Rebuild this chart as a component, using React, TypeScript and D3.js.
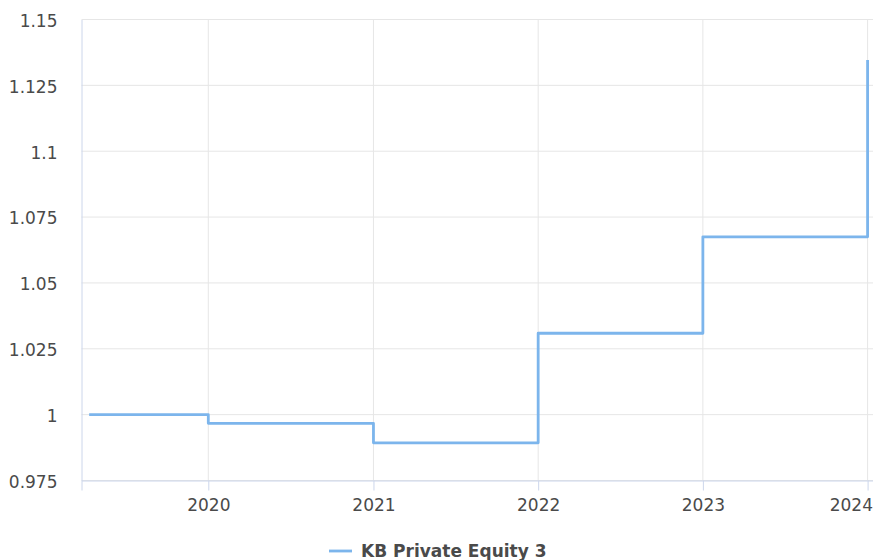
import * as d3 from "d3";
import { useEffect, useRef } from "react";

const seriesName = "KB Private Equity 3";
const dates = ["2019-04-12", "2020-01-01", "2021-01-01", "2022-01-01", "2023-01-01", "2024-01-01"];
const values = [1.0, 0.9967, 0.9893, 1.0309, 1.0675, 1.1346];
const yTicks = [0.975, 1, 1.025, 1.05, 1.075, 1.1, 1.125, 1.15];
const xTickYears = ["2020", "2021", "2022", "2023", "2024"];

const parse = d3.utcParse("%Y-%m-%d");

export default function App() {
  const svgRef = useRef<SVGSVGElement | null>(null);

  useEffect(() => {
    if (!svgRef.current) return;
    const width = 873;
    const height = 560;
    const margin = { top: 19.5, right: 0, bottom: 79.5, left: 81.5 };
    const font = "'DejaVu Sans', sans-serif";

    const data = dates.map((d, i) => ({ date: parse(d) as Date, value: values[i] }));

    const x = d3.scaleUtc()
      .domain([parse("2019-03-26") as Date, parse("2024-01-13") as Date])
      .range([margin.left, width - margin.right]);

    const y = d3.scaleLinear()
      .domain([0.975, 1.15])
      .range([height - margin.bottom, margin.top]);

    const svg = d3.select(svgRef.current);
    svg.selectAll("*").remove();

    const xTicks = xTickYears.map(t => parse(`${t}-01-01`) as Date);

    // grid
    svg.append("g")
      .selectAll("line")
      .data(yTicks)
      .enter().append("line")
      .attr("x1", margin.left)
      .attr("x2", width - margin.right)
      .attr("y1", d => y(d))
      .attr("y2", d => y(d))
      .attr("stroke", "#e6e6e6")
      .attr("stroke-width", 1);

    svg.append("g")
      .selectAll("line")
      .data(xTicks)
      .enter().append("line")
      .attr("x1", d => x(d))
      .attr("x2", d => x(d))
      .attr("y1", margin.top)
      .attr("y2", height - margin.bottom)
      .attr("stroke", "#e6e6e6")
      .attr("stroke-width", 1);

    // x axis
    const xAxis = svg.append("g")
      .attr("transform", `translate(0,${height - margin.bottom})`)
      .call(d3.axisBottom(x).tickValues(xTicks).tickFormat(d3.utcFormat("%Y") as any).tickSize(10).tickPadding(8));
    xAxis.select(".domain").attr("stroke", "#ccd6eb");
    xAxis.selectAll(".tick line").attr("stroke", "#ccd6eb");
    xAxis.selectAll("text")
      .attr("fill", "#4a4a4a")
      .style("font-family", font)
      .style("font-size", "17px");
    // last label is pushed inside the chart edge
    xAxis.selectAll<SVGTextElement, Date>("text")
      .filter(d => +d === +xTicks[xTicks.length - 1])
      .attr("text-anchor", "end")
      .attr("x", width - 0.5 - x(xTicks[xTicks.length - 1]));

    // y axis
    const yAxis = svg.append("g")
      .attr("transform", `translate(${margin.left},0)`)
      .call(d3.axisLeft(y).tickValues(yTicks).tickFormat(d => String(+d)).tickSize(0).tickPadding(24));
    yAxis.select(".domain").attr("stroke", "#ccd6eb");
    yAxis.selectAll("text")
      .attr("fill", "#4a4a4a")
      .attr("dy", "0.4em")
      .style("font-family", font)
      .style("font-size", "17px");

    const line = d3.line<{ date: Date; value: number }>()
      .x(d => x(d.date))
      .y(d => y(d.value))
      .curve(d3.curveStepAfter);

    svg.append("path")
      .datum(data)
      .attr("fill", "none")
      .attr("stroke", "#7cb5ec")
      .attr("stroke-width", 2.8)
      .attr("stroke-linejoin", "round")
      .attr("d", line);

    // legend
    const legend = svg.append("g").attr("transform", `translate(329,551)`);
    legend.append("line")
      .attr("x1", 0).attr("x2", 23)
      .attr("y1", 0).attr("y2", 0)
      .attr("stroke", "#7cb5ec")
      .attr("stroke-width", 2.8);
    legend.append("text")
      .attr("x", 32)
      .attr("y", 6)
      .attr("fill", "#4a4a4a")
      .style("font-family", font)
      .style("font-size", "17px")
      .style("font-weight", "bold")
      .text(seriesName);
  }, []);

  return (
    <svg ref={svgRef} width={873} height={560}
      style={{ position: "absolute", left: 0, top: 0, background: "white" }} />
  );
}
